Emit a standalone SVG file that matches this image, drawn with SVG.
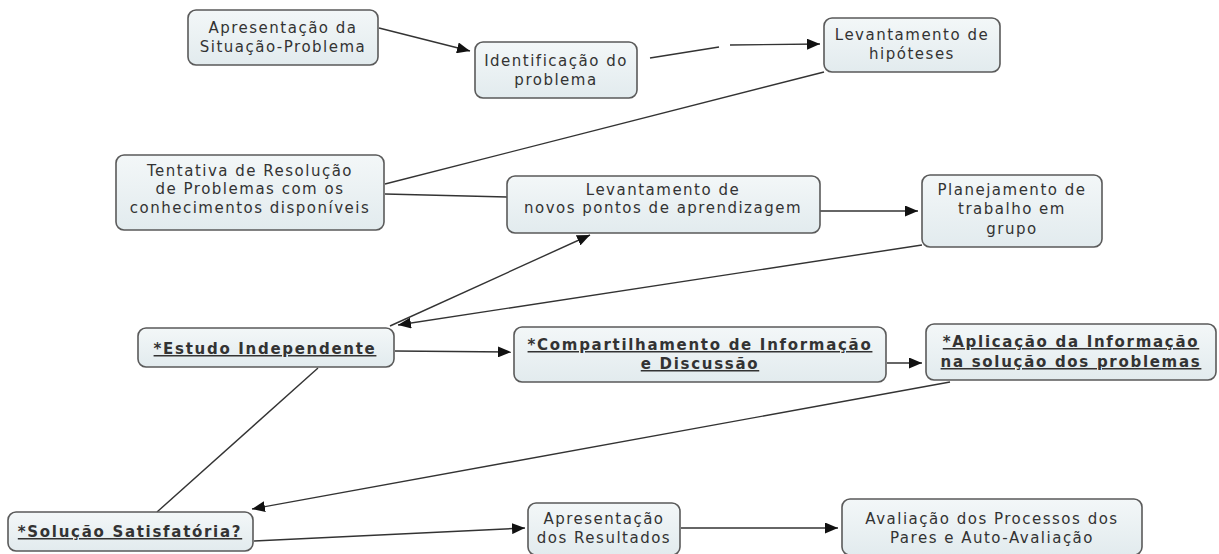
<svg xmlns="http://www.w3.org/2000/svg" width="1219" height="554" viewBox="0 0 1219 554">
<style>
.box{fill:url(#g);stroke:#5a5a5a;stroke-width:1.6}
.t{font-family:"DejaVu Sans",Verdana,sans-serif;font-size:15px;letter-spacing:1.5px;fill:#333;text-anchor:middle}
.b{font-weight:bold;text-decoration:underline;letter-spacing:1.7px}
.c{stroke:#333;stroke-width:1.4;fill:none}
.a{marker-end:url(#ah)}
</style>
<defs>
<linearGradient id="g" x1="0" y1="0" x2="0" y2="1">
<stop offset="0" stop-color="#f3f7f8"/>
<stop offset="1" stop-color="#e2ebee"/>
</linearGradient>
<marker id="ah" viewBox="0 0 13 11" refX="13" refY="5.5" markerWidth="13" markerHeight="11" markerUnits="userSpaceOnUse" orient="auto">
<path d="M0,0 L13,5.5 L0,11 Z" fill="#111"/>
</marker>
</defs>
<rect width="1219" height="554" fill="#fff"/>
<g id="connectors">
<line class="c a" x1="379" y1="28" x2="470" y2="51"/>
<line class="c" x1="650" y1="58" x2="719" y2="47"/>
<line class="c a" x1="730" y1="45" x2="820" y2="44"/>
<line class="c" x1="824" y1="72" x2="385" y2="184"/>
<line class="c" x1="385" y1="194" x2="507" y2="197"/>
<line class="c a" x1="820" y1="211" x2="918" y2="211"/>
<line class="c a" x1="922" y1="245" x2="398" y2="325"/>
<line class="c a" x1="390" y1="326" x2="590" y2="235"/>
<line class="c a" x1="395" y1="351" x2="511" y2="352"/>
<line class="c a" x1="887" y1="363" x2="922" y2="363"/>
<line class="c a" x1="950" y1="382" x2="252" y2="509"/>
<line class="c" x1="318" y1="368" x2="157" y2="512"/>
<line class="c a" x1="254" y1="541" x2="525" y2="528"/>
<line class="c a" x1="681" y1="528" x2="838" y2="528"/>
</g>
<g id="n1"><rect class="box" x="188" y="10" width="190" height="55" rx="8"/>
<text class="t" x="283" y="33">Apresentação da</text><text class="t" x="283" y="52">Situação-Problema</text></g>
<g id="n2"><rect class="box" x="475" y="42" width="162" height="56" rx="8"/>
<text class="t" x="556" y="66">Identificação do</text><text class="t" x="556" y="85">problema</text></g>
<g id="n3"><rect class="box" x="824" y="18" width="176" height="54" rx="8"/>
<text class="t" x="912" y="40">Levantamento de</text><text class="t" x="912" y="59">hipóteses</text></g>
<g id="n4"><rect class="box" x="116" y="155" width="268" height="75" rx="8"/>
<text class="t" x="250" y="176">Tentativa de Resolução</text><text class="t" x="250" y="194">de Problemas com os</text><text class="t" x="250" y="213">conhecimentos disponíveis</text></g>
<g id="n5"><rect class="box" x="507" y="176" width="313" height="57" rx="8"/>
<text class="t" x="663" y="195">Levantamento de</text><text class="t" x="663" y="213">novos pontos de aprendizagem</text></g>
<g id="n6"><rect class="box" x="922" y="175" width="180" height="72" rx="8"/>
<text class="t" x="1012" y="195">Planejamento de</text><text class="t" x="1012" y="214">trabalho em</text><text class="t" x="1012" y="234">grupo</text></g>
<g id="n7"><rect class="box" x="138" y="328" width="256" height="39" rx="8"/>
<text class="t b" x="265" y="354">*Estudo Independente</text></g>
<g id="n8"><rect class="box" x="514" y="327" width="372" height="55" rx="8"/>
<text class="t b" x="700" y="350">*Compartilhamento de Informação</text><text class="t b" x="700" y="369">e Discussão</text></g>
<g id="n9"><rect class="box" x="926" y="324" width="290" height="56" rx="8"/>
<text class="t b" x="1071" y="347">*Aplicação da Informação </text><text class="t b" x="1071" y="367">na solução dos problemas </text></g>
<g id="n10"><rect class="box" x="8" y="512" width="245" height="39" rx="8"/>
<text class="t b" x="130" y="537">*Solução Satisfatória?</text></g>
<g id="n11"><rect class="box" x="528" y="503" width="152" height="52" rx="8"/>
<text class="t" x="604" y="524">Apresentação</text><text class="t" x="604" y="543">dos Resultados</text></g>
<g id="n12"><rect class="box" x="842" y="499" width="300" height="56" rx="8"/>
<text class="t" x="992" y="524">Avaliação dos Processos dos</text><text class="t" x="992" y="543">Pares e Auto-Avaliação</text></g>
</svg>
